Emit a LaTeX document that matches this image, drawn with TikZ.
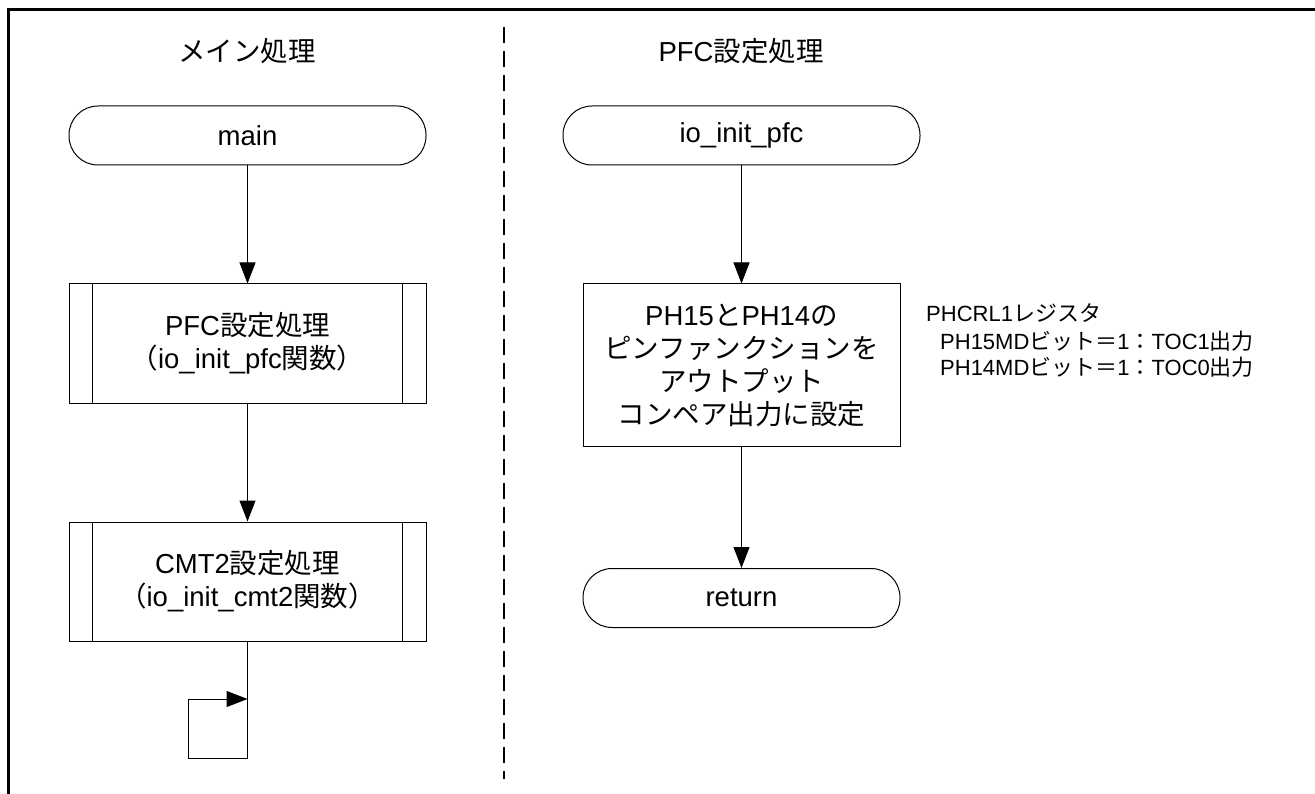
\documentclass[tikz,border=0pt]{standalone}
\usepackage{fontspec}
\setmainfont{Liberation Sans}
\newfontfamily\jpf{Noto Sans CJK JP}
\newcommand\J[1]{{\jpf #1}}
\usetikzlibrary{arrows.meta}
\begin{document}
\begin{tikzpicture}[x=1pt,y=-1pt,
  every node/.style={inner sep=0pt, font=\fontsize{27.5}{33}\selectfont},
  term/.style={draw, line width=1pt, rounded corners=29pt, minimum width=357pt, minimum height=59pt},
  proc/.style={draw, line width=1pt, minimum width=357pt, minimum height=119pt, align=center},
  stepbox/.style={draw, line width=1pt, minimum width=317pt, minimum height=162pt, align=center},
  note/.style={anchor=base west, font=\fontsize{22}{27}\selectfont},
  arr/.style={line width=1pt, -{Triangle[length=21pt,width=16pt]}},
  frameline/.style={line width=2.3pt},
  divider/.style={line width=2pt, dash pattern=on 16pt off 8pt}
]
\useasboundingbox (0,0) rectangle (1315,794);
% frame
\draw[frameline] (8.5,794) -- (8.5,9.5) -- (1315,9.5);
\draw[divider] (504.3,27) -- (504.3,779);
% headings
\node (h1) at (247,51) {\J{メイン処理}};
\node (h2) at (741,51) {PFC\J{設定処理}};
% left flow
\node[term] (main) at (247.5,135.5) {main};
\node[proc] (pfc) at (247.5,343.5) {PFC\J{設定処理}\\\J{（}io\_init\_pfc\J{関数）}};
\node[proc] (cmt) at (247.5,581.5) {CMT2\J{設定処理}\\\J{（}io\_init\_cmt2\J{関数）}};
\foreach \n in {pfc,cmt}{
  \draw[line width=1pt] ([xshift=24pt]\n.north west) -- ([xshift=24pt]\n.south west);
  \draw[line width=1pt] ([xshift=-24pt]\n.north east) -- ([xshift=-24pt]\n.south east);
}
\draw[arr] (main.south) -- (pfc.north);
\draw[arr] (pfc.south) -- (cmt.north);
\coordinate (l1) at (247.5,758);
\coordinate (l2) at (188,758);
\coordinate (l3) at (188,699);
\coordinate (l4) at (247.5,699);
\draw[arr] (cmt.south) -- (l1) -- (l2) -- (l3) -- (l4);
% right flow
\node[term] (iop) at (741.5,135.5) {io\_init\_pfc};
\node[stepbox] (ph) at (741.5,365) {PH15\J{と}PH14\J{の}\\\J{ピンファンクションを}\\\J{アウトプット}\\\J{コンペア出力に設定}};
\node[term, minimum width=317pt] (ret) at (741.5,598) {return};
\draw[arr] (iop.south) -- (ph.north);
\draw[arr] (ph.south) -- (ret.north);
% note
\node[note] (n1) at (926,322) {PHCRL1\J{レジスタ}};
\node[note] (n2) at (940,349) {PH15MD\J{ビット＝}1\J{：}TOC1\J{出力}};
\node[note] (n3) at (940,376) {PH14MD\J{ビット＝}1\J{：}TOC0\J{出力}};
\end{tikzpicture}
\end{document}
